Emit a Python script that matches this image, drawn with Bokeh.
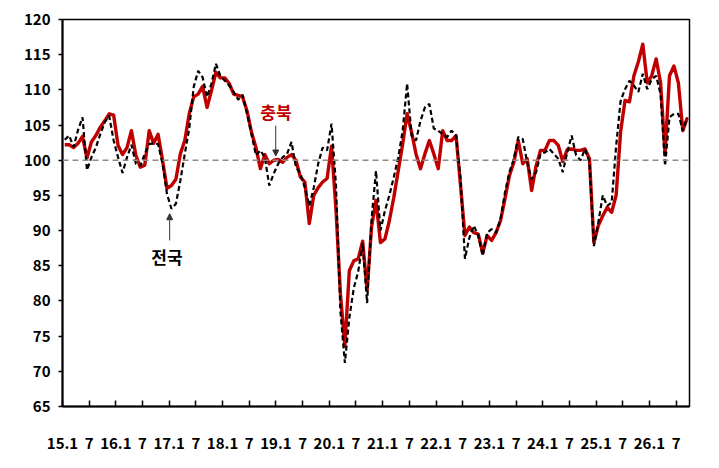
from bokeh.plotting import figure
from bokeh.models import Range1d, FixedTicker, Span, Arrow, NormalHead, ColumnDataSource
from bokeh.core.properties import value
from bokeh.embed import file_html
from bokeh.resources import INLINE

# Monthly index values, 2015.1 - 2026.9
chungbuk = [
    102.2, 102.2, 101.8, 102.4, 103.4, 100.3, 102.6, 103.5, 104.7, 105.6, 106.6, 106.4,
    102.1, 100.8, 101.8, 104.2, 100.7, 99.0, 99.3, 104.2, 102.4, 103.7, 100.0, 96.0,
    96.4, 97.3, 100.9, 102.8, 106.6, 109.0, 109.4, 110.5, 107.5, 109.9, 112.5, 111.7,
    111.7, 110.9, 109.4, 109.2, 109.0, 107.0, 104.0, 101.8, 98.8, 100.8, 99.5, 100.0,
    100.1, 99.7, 100.4, 100.8, 100.0, 97.6, 96.9, 91.0, 95.0, 96.1, 96.9, 97.4,
    102.0, 93.0, 81.0, 73.6, 84.3, 85.7, 86.0, 88.5, 81.5, 90.5, 94.3, 88.3,
    88.8, 91.4, 94.7, 98.5, 102.3, 106.6, 104.0, 100.9, 98.8, 100.9, 102.8, 100.9,
    98.8, 104.2, 102.8, 102.8, 103.5, 96.5, 89.3, 90.5, 89.7, 89.5, 86.8, 89.3,
    88.6, 89.7, 91.4, 94.5, 97.8, 99.7, 102.8, 99.5, 100.2, 95.7, 99.2, 101.4,
    101.4, 102.8, 102.8, 102.1, 99.8, 101.5, 101.6, 101.4, 101.4, 101.6, 100.2, 88.3,
    90.7, 92.1, 93.3, 92.6, 95.0, 104.0, 108.5, 108.3, 112.0, 114.0, 116.5, 111.0,
    112.0, 114.4, 111.0, 101.0, 112.0, 113.4, 111.0, 104.2, 106.0,
]
national = [
    102.9, 103.5, 101.9, 104.3, 106.1, 98.6, 100.4, 101.8, 103.7, 105.4, 106.3, 102.8,
    100.4, 98.2, 100.4, 102.2, 99.5, 99.2, 100.9, 102.3, 102.4, 102.3, 99.5, 95.2,
    93.1, 93.8, 97.1, 100.9, 104.5, 110.4, 112.7, 111.8, 109.0, 110.9, 113.7, 112.0,
    111.3, 110.6, 109.7, 108.6, 109.3, 106.6, 103.7, 100.7, 101.4, 100.4, 96.4, 98.1,
    99.5, 100.4, 100.9, 102.6, 99.0, 98.1, 96.1, 93.5, 96.1, 99.5, 101.8, 101.4,
    105.2, 96.5, 78.5, 71.2, 77.6, 81.8, 84.2, 88.2, 79.7, 91.6, 98.5, 90.0,
    92.8, 95.0, 97.6, 100.4, 104.2, 110.9, 103.5, 102.8, 105.6, 107.5, 108.0, 104.5,
    104.2, 103.7, 103.3, 104.2, 103.5, 97.5, 86.0, 89.0, 90.7, 89.3, 86.4, 89.7,
    90.2, 89.7, 91.6, 95.4, 98.3, 100.2, 103.3, 103.0, 99.7, 97.3, 98.3, 100.9,
    101.1, 101.6, 100.9, 100.2, 98.3, 101.1, 103.5, 100.7, 100.0, 101.6, 99.7, 87.8,
    91.2, 95.0, 93.5, 94.0, 102.0, 108.4, 110.1, 111.3, 110.6, 109.7, 112.3, 110.1,
    111.5, 112.0, 109.4, 99.2, 106.1, 106.6, 106.6, 104.2, 106.1,
]
tick_labels = ["15.1", "7", "16.1", "7", "17.1", "7", "18.1", "7", "19.1", "7",
               "20.1", "7", "21.1", "7", "22.1", "7", "23.1", "7", "24.1", "7",
               "25.1", "7", "26.1", "7"]
y_ticks = [65, 70, 75, 80, 85, 90, 95, 100, 105, 110, 115, 120]
label_cb = "충북"
label_nat = "전국"

n = len(chungbuk)
xs = [i + 0.5 for i in range(n)]
tick_pos = [6 * k for k in range(len(tick_labels))]

p = figure(width=711, height=460, output_backend="svg", toolbar_location=None,
           x_range=Range1d(0, n), y_range=Range1d(65, 120),
           min_border_left=62, min_border_right=22, min_border_top=19, min_border_bottom=54)
p.background_fill_color = "white"
p.border_fill_color = "white"
p.outline_line_color = "black"
p.outline_line_width = 1.5
p.xgrid.visible = False
p.ygrid.visible = False

font = "Noto Sans CJK KR"

p.xaxis.ticker = FixedTicker(ticks=tick_pos)
p.xaxis.major_label_overrides = {t: l for t, l in zip(tick_pos, tick_labels)}
p.xaxis.minor_tick_line_color = None
p.xaxis.major_tick_in = 6
p.xaxis.major_tick_out = 0
p.xaxis.major_label_standoff = 31
p.yaxis.ticker = FixedTicker(ticks=y_ticks)
p.yaxis.minor_tick_line_color = None
p.yaxis.major_tick_in = 0
p.yaxis.major_tick_out = 4
p.yaxis.major_label_standoff = 8
for ax in (p.xaxis, p.yaxis):
    ax.axis_line_color = "black"
    ax.axis_line_width = 2
    ax.major_tick_line_color = "black"
    ax.major_tick_line_width = 1.5
    ax.major_label_text_font = font
    ax.major_label_text_font_style = "bold"
    ax.major_label_text_font_size = "15px"
    ax.major_label_text_color = "black"

p.add_layout(Span(location=100, dimension="width", line_color="#8c8c8c",
                  line_width=1.5, line_dash="6 4"))

src = ColumnDataSource(dict(x=xs, cb=chungbuk, nat=national))
p.line("x", "cb", source=src, line_color="#C00000", line_width=3.4, line_join="round")
p.line("x", "nat", source=src, line_color="black", line_width=2.2, line_dash="5 3")

# annotations
p.text(x=[48.0], y=[106.9], text=[label_cb], text_font=value(font), text_font_style="bold",
       text_font_size="17px", text_color="#C00000", text_align="center", text_baseline="middle")
p.add_layout(Arrow(end=NormalHead(size=6, fill_color="#333333", line_color="#333333"),
                   x_start=47.95, y_start=104.9, x_end=47.95, y_end=100.6,
                   line_color="#333333", line_width=1))
p.text(x=[23.5], y=[86.3], text=[label_nat], text_font=value(font), text_font_style="bold",
       text_font_size="17px", text_color="black", text_align="center", text_baseline="middle")
p.add_layout(Arrow(end=NormalHead(size=6, fill_color="#333333", line_color="#333333"),
                   x_start=24.1, y_start=88.6, x_end=24.1, y_end=92.4,
                   line_color="#333333", line_width=1))

open("out.html", "w").write(file_html(p, INLINE))
